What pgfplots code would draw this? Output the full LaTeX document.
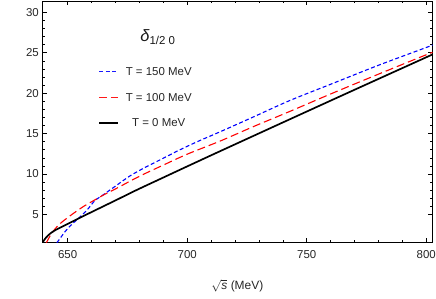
\documentclass[border=0pt]{standalone}
\usepackage{fontspec}
\setmainfont{Liberation Sans}
\usepackage{pgfplots}
\pgfplotsset{compat=1.18}
\definecolor{legblue}{rgb}{0.1,0.1,1}
\definecolor{legred}{rgb}{1,0.1,0.1}
\begin{document}
\begin{tikzpicture}
\useasboundingbox (-42.3bp,-56.3bp) rectangle (393.7bp,242.7bp);
\begin{axis}[
  scale only axis, width=390.2bp, height=241.7bp,
  xmin=639.4, xmax=802.6, ymin=1.5, ymax=31.4,
  xtick={650,700,750,800}, minor x tick num=4,
  ytick={5,10,15,20,25,30}, minor y tick num=4,
  tick align=inside, major tick length=4.5bp, minor tick length=2.5bp,
  tick style={black, line width=0.6pt},
  axis line style={line width=0.8pt},
  /pgf/number format/assume math mode=true,
  ticklabel style={font=\fontsize{11.5}{13}\selectfont, text=black!85},
  xticklabel style={yshift=-4bp},
  xlabel={$\sqrt{\mbox{\itshape s}}$ (MeV)},
  xlabel style={font=\fontsize{12}{14}\selectfont, text=black!85, yshift=-14bp},
  clip=true,
]
\addplot[blue, line width=1.1pt, dash pattern=on 4bp off 2.5bp, smooth, tension=0.5] coordinates {
(645.5,1.5) (647,2.1) (649,2.9) (651,3.55) (653,4.1) (655,4.65) (658,5.5) (661.4,6.7) (665,7.45) (670,8.5) (676,9.75) (682,10.75) (690,11.95) (697,13.0) (705,14.1) (714,15.25) (728,17.1) (743,19.1) (760,21.1) (780,23.45) (800,25.65) (803,26.0)
};
\addplot[red, line width=1.1pt, dash pattern=on 8bp off 4bp, smooth, tension=0.5] coordinates {
(641.1,1.5) (642,2.0) (643,2.5) (644.7,3.2) (647,3.9) (650,4.6) (653,5.25) (657,6.05) (661.4,6.8) (665,7.4) (670,8.15) (676,9.1) (682,10.0) (690,11.1) (700,12.45) (714,14.1) (728,15.9) (743,17.75) (760,19.9) (780,22.35) (800,24.75) (803,25.05)
};
\addplot[black, line width=1.7pt, smooth, tension=0.5] coordinates {
(639.5,1.5) (640,1.75) (641,2.15) (642,2.45) (643,2.7) (644,2.9) (645,3.08) (647,3.38) (650,3.82) (653,4.27) (656,4.71) (660,5.29) (665,6.01) (670,6.73) (675,7.46) (680,8.18) (690,9.56) (700,10.94) (715,12.99) (743,16.78) (770,20.42) (803,24.84)
};
% legend
\draw[legblue, line width=1.3pt, dash pattern=on 4bp off 2.5bp] (axis description cs:0.146,0.7075) -- (axis description cs:0.195,0.7075);
\draw[legred, line width=1.3pt, dash pattern=on 8bp off 3.5bp] (axis description cs:0.146,0.6016) -- (axis description cs:0.195,0.6016);
\draw[black, line width=1.7pt] (axis description cs:0.146,0.4965) -- (axis description cs:0.195,0.4965);
\node[font=\fontsize{11.5}{13}\selectfont, text=black!85, anchor=center] at (axis description cs:0.2985,0.7075) {T = 150 MeV};
\node[font=\fontsize{11.5}{13}\selectfont, text=black!85, anchor=center] at (axis description cs:0.2985,0.6016) {T = 100 MeV};
\node[font=\fontsize{11.5}{13}\selectfont, text=black!85, anchor=center] at (axis description cs:0.2985,0.4965) {T = 0 MeV};
\node[font=\fontsize{16.5}{18}\selectfont, text=black!90] at (axis cs:687.8,26.9) {\itshape δ\textsubscript{\upshape\fontsize{11.5}{13}\selectfont 1/2 0}};
\end{axis}
\end{tikzpicture}
\end{document}
